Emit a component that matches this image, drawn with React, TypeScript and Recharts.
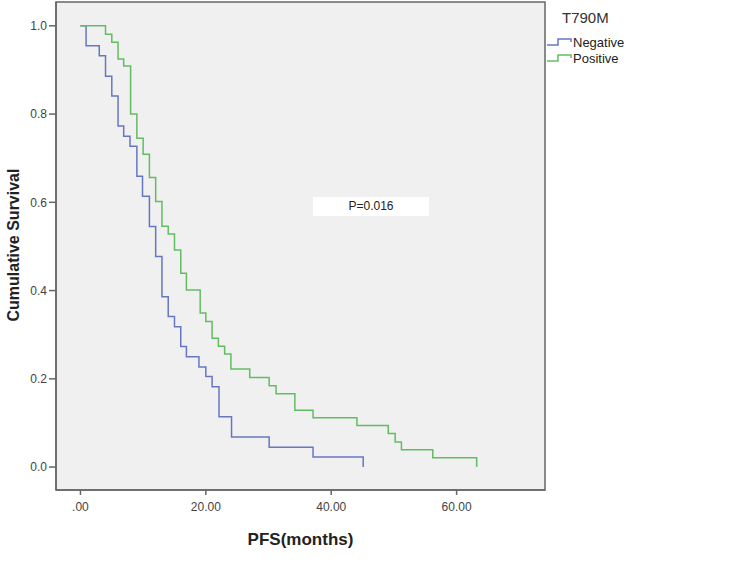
import React from 'react';
import { LineChart, Line, XAxis, YAxis, CartesianGrid, ReferenceArea } from 'recharts';

// Kaplan-Meier steps (months, cumulative survival)
const negTime = [0, 0.9, 3.0, 4.0, 5.0, 6.0, 6.9, 7.9, 9.0, 9.9, 11.0, 12.0, 13.0, 14.0, 15.0, 16.0, 16.9, 18.9, 20.0, 21.0, 22.1, 24.1, 30.1, 37.1, 45.1];
const negSurv = [1, 0.955, 0.932, 0.886, 0.841, 0.773, 0.75, 0.727, 0.659, 0.614, 0.545, 0.477, 0.386, 0.341, 0.318, 0.273, 0.25, 0.227, 0.205, 0.182, 0.114, 0.068, 0.045, 0.023, 0];

const posTime = [0, 4.0, 5.0, 6.0, 6.9, 8.0, 9.0, 10.0, 11.0, 12.0, 13.0, 14.0, 15.0, 16.0, 16.9, 19.1, 20.0, 21.0, 22.0, 23.0, 24.0, 27.0, 30.1, 31.2, 34.2, 37.1, 44.1, 49.1, 50.2, 51.2, 56.2, 63.2];
const posSurv = [1, 0.981, 0.963, 0.925, 0.909, 0.8, 0.745, 0.709, 0.656, 0.602, 0.546, 0.528, 0.492, 0.439, 0.401, 0.349, 0.33, 0.292, 0.274, 0.256, 0.222, 0.203, 0.184, 0.166, 0.129, 0.112, 0.094, 0.076, 0.057, 0.039, 0.021, 0];

const xTicks = [0, 20, 40, 60];
const yTicks = [0, 0.2, 0.4, 0.6, 0.8, 1.0];

const X_DOMAIN = [-3.9, 74.1];
const Y_DOMAIN = [-0.052, 1.054];

const FONT = '"Liberation Sans", Arial, sans-serif';

const series = [
  { name: 'Negative', color: '#6677c2', data: negTime.map((t, i) => ({ t, s: negSurv[i] })) },
  { name: 'Positive', color: '#62bd62', data: posTime.map((t, i) => ({ t, s: posSurv[i] })) },
];

const StepIcon = ({ color }: { color: string }) => (
  <svg width={26} height={12} style={{ display: 'block' }}>
    <polyline points="0,8 11,8 11,2 24,2 24,5" fill="none" stroke={color} strokeWidth={1.5} />
  </svg>
);

export default function App() {
  return (
    <div style={{ position: 'absolute', left: 0, top: 0, width: 735, height: 563, background: '#fff', fontFamily: FONT }}>
      <LineChart
        width={735}
        height={563}
        margin={{ top: 2, right: 190, bottom: 43, left: 0 }}
        style={{ fontFamily: FONT }}
      >
        <CartesianGrid fill="#f0f0f0" horizontal={false} vertical={false} />
        <XAxis
          dataKey="t"
          type="number"
          domain={X_DOMAIN}
          allowDataOverflow
          ticks={xTicks}
          tickFormatter={(v: number) => (v === 0 ? '.00' : v.toFixed(2))}
          stroke="#666"
          strokeWidth={1.5}
          tickSize={5}
          tickMargin={7}
          tick={{ fontSize: 12, fill: '#444' }}
          height={30}
        />
        <YAxis
          type="number"
          domain={Y_DOMAIN}
          allowDataOverflow
          ticks={yTicks}
          tickFormatter={(v: number) => v.toFixed(1)}
          stroke="#666"
          strokeWidth={1.5}
          tickSize={7}
          tickMargin={2}
          tick={{ fontSize: 12, fill: '#444' }}
          width={56}
        />
        <ReferenceArea
          x1={X_DOMAIN[0]}
          x2={X_DOMAIN[1]}
          y1={Y_DOMAIN[0]}
          y2={Y_DOMAIN[1]}
          fill="none"
          stroke="#666"
          strokeWidth={1.5}
          ifOverflow="visible"
        />
        {series.map((s) => (
          <Line
            key={s.name}
            data={s.data}
            dataKey="s"
            name={s.name}
            type="stepAfter"
            stroke={s.color}
            strokeWidth={1.5}
            dot={false}
            isAnimationActive={false}
          />
        ))}
      </LineChart>

      {/* p-value box */}
      <div
        style={{
          position: 'absolute', left: 313, top: 197, width: 116, height: 19,
          background: '#fff', fontSize: 12, color: '#222', textAlign: 'center', lineHeight: '19px',
        }}
      >
        P=0.016
      </div>

      {/* axis titles */}
      <div
        style={{
          position: 'absolute', left: 0, top: 530, width: 601, textAlign: 'center',
          fontSize: 17, fontWeight: 'bold', color: '#222', lineHeight: '20px',
        }}
      >
        PFS(months)
      </div>
      <div style={{ position: 'absolute', left: 14, top: 245, width: 0, height: 0 }}>
        <div
          style={{
            position: 'absolute', left: -150, top: -10, width: 300, textAlign: 'center',
            transform: 'rotate(-90deg)', fontSize: 16, fontWeight: 'bold', color: '#222', lineHeight: '20px',
          }}
        >
          Cumulative Survival
        </div>
      </div>

      {/* legend */}
      <div style={{ position: 'absolute', left: 547, top: 8 }}>
        <div style={{ marginLeft: 15, fontSize: 15, color: '#333', lineHeight: '20px' }}>T790M</div>
        <div style={{ marginTop: 7 }}>
          {series.map((s) => (
            <div key={s.name} style={{ display: 'flex', alignItems: 'center', height: 16 }}>
              <StepIcon color={s.color} />
              <span style={{ fontSize: 13, color: '#222', lineHeight: '16px' }}>{s.name}</span>
            </div>
          ))}
        </div>
      </div>
    </div>
  );
}
